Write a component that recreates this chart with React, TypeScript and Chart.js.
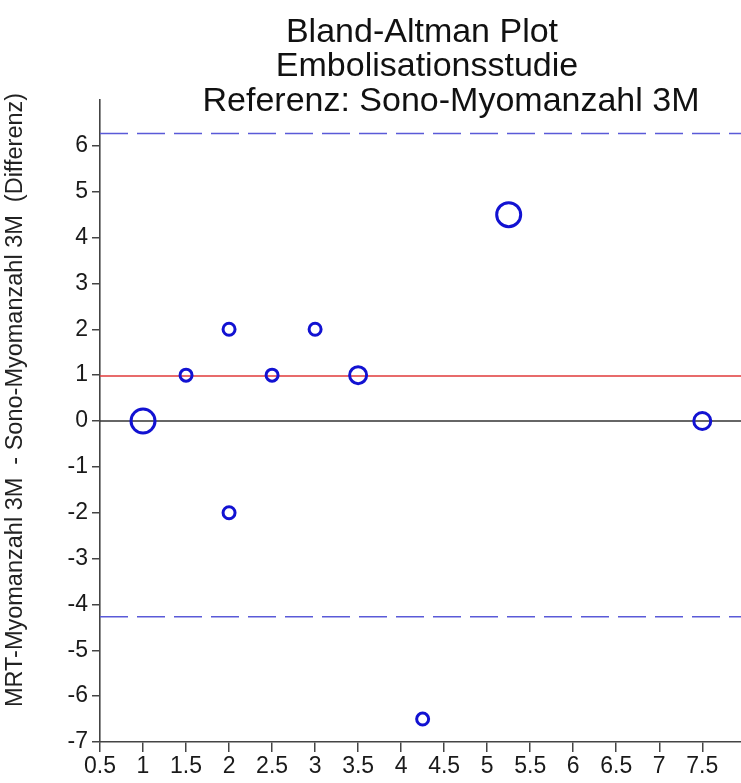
import React, { useEffect, useRef } from "react";
import { Chart, registerables } from "chart.js";

Chart.register(...registerables);

// ---- data ----
const meanValues = [1, 1.5, 2, 2, 2.5, 3, 3.5, 5.25, 7.5, 4.25];
const diffValues = [0, 1, 2, -2, 1, 2, 1, 4.5, 0, -6.5];
const counts = [4, 1, 1, 1, 1, 1, 2, 4, 2, 1];
const meanDiff = 0.98;
const upperLoA = 6.27;
const lowerLoA = -4.27;
const xTickValues = [0.5, 1, 1.5, 2, 2.5, 3, 3.5, 4, 4.5, 5, 5.5, 6, 6.5, 7, 7.5];
const yTickValues = [-7, -6, -5, -4, -3, -2, -1, 0, 1, 2, 3, 4, 5, 6];
const xMin = 0.5;
const xMax = 7.95;
const yMin = -7;
const yMax = 7;
const titleLines = ["Bland-Altman Plot", "Embolisationsstudie", "Referenz: Sono-Myomanzahl 3M"];
const yAxisTitle = "MRT-Myomanzahl 3M  - Sono-Myomanzahl 3M  (Differenz)";

const FONT = "'Liberation Sans', Arial, Helvetica, sans-serif";
const W = 741;
const H = 783;

const zeroPad = () => ({ left: 0, right: 0, top: 0, bottom: 0 });

export default function App() {
  const canvasRef = useRef<HTMLCanvasElement | null>(null);

  useEffect(() => {
    if (!canvasRef.current) return;
    const hline = (y: number) => [
      { x: xMin, y },
      { x: xMax, y },
    ];

    const textPlugin = {
      id: "textPlugin",
      afterDraw(chart: any) {
        const ctx = chart.ctx;
        ctx.save();
        ctx.fillStyle = "#111";
        ctx.font = `34px ${FONT}`;
        ctx.textAlign = "center";
        ctx.textBaseline = "alphabetic";
        const centers = [422, 427, 451];
        const baselines = [42, 76, 111];
        titleLines.forEach((t, i) => ctx.fillText(t, centers[i], baselines[i]));
        ctx.translate(16, 400);
        ctx.rotate(-Math.PI / 2);
        ctx.font = `23.5px ${FONT}`;
        ctx.textBaseline = "middle";
        ctx.fillStyle = "#222";
        ctx.fillText(yAxisTitle, 0, 0);
        ctx.restore();
      },
    };

    const chart = new Chart(canvasRef.current, {
      type: "scatter",
      data: {
        datasets: [
          {
            label: "Differenz",
            data: meanValues.map((x, i) => ({ x, y: diffValues[i] })),
            pointRadius: (c: any) => 6 * Math.sqrt(counts[c.dataIndex] || 1),
            pointBackgroundColor: "rgba(0,0,0,0)",
            pointBorderColor: "#1212d2",
            pointBorderWidth: 3,
            pointHoverRadius: (c: any) => 6 * Math.sqrt(counts[c.dataIndex] || 1),
            order: 1,
          } as any,
          {
            type: "line",
            label: "zero",
            data: hline(0),
            borderColor: "#333",
            borderWidth: 1.6,
            pointRadius: 0,
            order: 2,
          },
          {
            type: "line",
            label: "mean",
            data: hline(meanDiff),
            borderColor: "#e03a3a",
            borderWidth: 1.4,
            pointRadius: 0,
            order: 2,
          },
          {
            type: "line",
            label: "upper",
            data: hline(upperLoA),
            borderColor: "#5a5ad8",
            borderWidth: 1.6,
            borderDash: [28, 9],
            pointRadius: 0,
            order: 2,
          },
          {
            type: "line",
            label: "lower",
            data: hline(lowerLoA),
            borderColor: "#5a5ad8",
            borderWidth: 1.6,
            borderDash: [28, 9],
            pointRadius: 0,
            order: 2,
          },
        ],
      },
      options: {
        animation: false,
        responsive: false,
        maintainAspectRatio: false,
        devicePixelRatio: 1,
        layout: { autoPadding: false, padding: { top: 100, right: 0, left: 0, bottom: 0 } },
        plugins: {
          legend: { display: false },
          title: { display: false },
          tooltip: { enabled: false },
        },
        scales: {
          x: {
            type: "linear",
            min: xMin,
            max: xMax,
            afterBuildTicks: (s: any) => {
              s.ticks = xTickValues.map((v) => ({ value: v }));
            },
            afterFit: (s: any) => {
              s.height = 41;
              s.paddingLeft = 0;
              s.paddingRight = 0;
              s.getPadding = zeroPad;
            },
            ticks: {
              font: { size: 23, family: FONT },
              color: "#1a1a1a",
              padding: 1,
              autoSkip: false,
              maxRotation: 0,
              callback: (v: any) => String(v),
            },
            grid: {
              drawOnChartArea: false,
              drawTicks: true,
              tickLength: 10,
              color: "#444",
              lineWidth: 1.5,
            },
            border: { display: true, color: "#444", width: 1.6 },
          },
          y: {
            type: "linear",
            min: yMin,
            max: yMax,
            afterBuildTicks: (s: any) => {
              s.ticks = yTickValues.map((v) => ({ value: v }));
            },
            afterFit: (s: any) => {
              s.width = 100;
              s.paddingTop = 0;
              s.paddingBottom = 0;
              s.getPadding = zeroPad;
            },
            ticks: {
              font: { size: 23, family: FONT },
              color: "#1a1a1a",
              padding: 4,
              autoSkip: false,
              callback: (v: any) => String(v),
            },
            grid: {
              drawOnChartArea: false,
              drawTicks: true,
              tickLength: 8,
              color: "#444",
              lineWidth: 1.5,
            },
            border: { display: true, color: "#444", width: 1.6 },
          },
        },
      },
      plugins: [textPlugin],
    } as any);

    return () => chart.destroy();
  }, []);

  return (
    <div
      style={{
        position: "absolute",
        left: 0,
        top: 0,
        width: W,
        height: H,
        background: "#fff",
        overflow: "hidden",
      }}
    >
      <canvas ref={canvasRef} width={W} height={H} style={{ display: "block", width: W, height: H }} />
    </div>
  );
}
